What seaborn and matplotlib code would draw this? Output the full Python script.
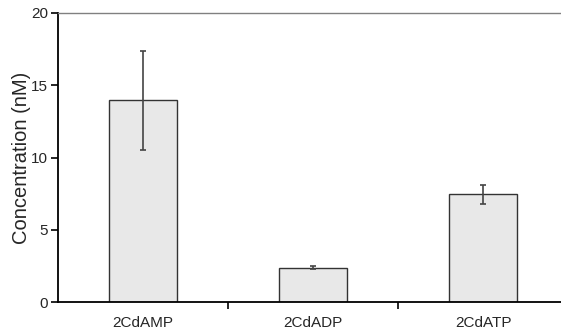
import matplotlib
matplotlib.use("Agg")
import matplotlib.pyplot as plt
import seaborn as sns
import pandas as pd

categories = ["2CdAMP", "2CdADP", "2CdATP"]
values = [13.95, 2.38, 7.45]
errors = [3.45, 0.08, 0.67]
yticks = [0, 5, 10, 15, 20]

sns.set_style("white")
plt.rcParams["font.family"] = ["Liberation Sans", "DejaVu Sans"]

fig = plt.figure(figsize=(5.61, 3.34), dpi=100)
ax = fig.add_axes([58/561, 32/334, 510/561, 289/334])

df = pd.DataFrame({"cat": categories, "val": values})
sns.barplot(data=df, x="cat", y="val", ax=ax, color="#e8e8e8",
            edgecolor="#333333", linewidth=1.0, width=0.4, saturation=1)
ax.errorbar(range(len(categories)), values, yerr=errors, fmt="none",
            ecolor="#444444", elinewidth=1.2, capsize=2.2, capthick=1.2)

ax.set_xlim(-0.5, 2.5)
ax.set_ylim(0, 20)
ax.set_yticks(yticks)
ax.set_xticks(range(len(categories)))
ax.set_xticklabels(categories, fontsize=11)
ax.tick_params(axis="x", length=0, pad=10)
ax.set_xticks([0.5, 1.5], minor=True)
ax.tick_params(axis="x", which="minor", direction="out", length=5, width=1.2, color="black", bottom=True)
ax.tick_params(axis="y", direction="out", length=5, width=1.2, color="black", left=True, labelsize=11, pad=2)
ax.set_xlabel("")
ax.set_ylabel("Concentration (nM)", fontsize=14.5, labelpad=0.5)

for s in ["left", "bottom"]:
    ax.spines[s].set_color("black")
    ax.spines[s].set_linewidth(1.3)
ax.spines["top"].set_color("#808080")
ax.spines["top"].set_linewidth(1.0)
ax.spines["right"].set_visible(False)

fig.savefig("out.png", dpi=100)
